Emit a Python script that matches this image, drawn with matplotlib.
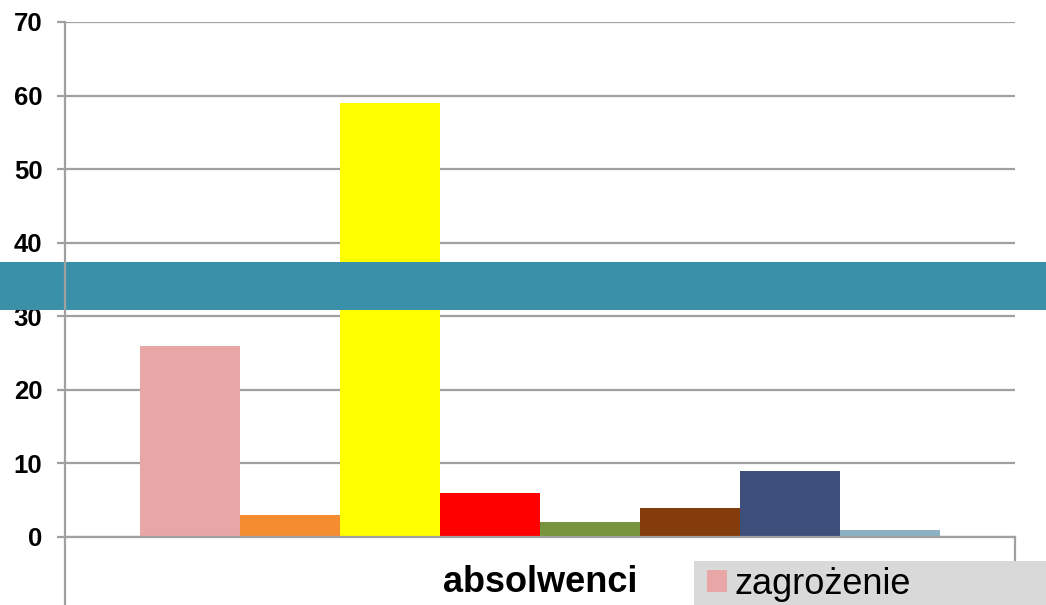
import matplotlib.pyplot as plt
from matplotlib.patches import Rectangle
from matplotlib.lines import Line2D

# one category ("absolwenci"), eight series side by side
series_values = [26, 3, 59, 6, 2, 4, 9, 1]
series_colors = ["#E9A6A6", "#F68C30", "#FFFF00", "#FF0000",
                 "#77933C", "#843C0C", "#3E4F7C", "#8BB3C3"]
legend_label = "zagrożenie"
category_label = "absolwenci"
y_ticks = [0, 10, 20, 30, 40, 50, 60, 70]

W, H = 1046, 605
GRID = "#A0A0A0"

plt.rcParams["font.family"] = ["Liberation Sans", "DejaVu Sans"]

fig = plt.figure(figsize=(W / 100, H / 100), dpi=100)
ax = fig.add_axes([65 / W, (H - 537) / H, 950 / W, 515 / H])

n = len(series_values)
positions = [i - (n - 1) / 2 for i in range(n)]
bars = ax.bar(positions, series_values, width=1.0, color=series_colors, zorder=2)

ax.set_xlim(-4.75, 4.75)
ax.set_ylim(0, 70)
ax.set_yticks(y_ticks)
ax.set_yticklabels([str(t) for t in y_ticks], fontsize=18.5, fontweight="bold")
ax.set_xticks([])
ax.yaxis.grid(True, color=GRID, linewidth=1.6, zorder=0)
ax.set_axisbelow(True)
ax.tick_params(axis="y", length=5.8, width=1.6, color=GRID, pad=10.5)
for side in ["top", "right", "left"]:
    ax.spines[side].set_visible(False)
ax.spines["bottom"].set_color(GRID)
ax.spines["bottom"].set_linewidth(1.6)
ax.spines["bottom"].set_zorder(3)

# teal band laid over the chart
fig.patches.append(Rectangle((0, (H - 310) / H), 1, 48 / H, transform=fig.transFigure,
                             facecolor="#3A90A8", edgecolor="none", zorder=2))

# value axis line running to the bottom of the picture, small tick at right end
fig.lines.append(Line2D([65 / W, 65 / W], [0, (H - 22) / H], transform=fig.transFigure,
                        color=GRID, linewidth=1.6, zorder=3))
fig.lines.append(Line2D([1015 / W, 1015 / W], [(H - 575) / H, (H - 537) / H],
                        transform=fig.transFigure, color=GRID, linewidth=1.6, zorder=3))

fig.text(540 / W, (H - 583) / H, category_label, fontsize=26, fontweight="bold",
         ha="center", va="center")

# legend on a grey strip in the bottom right corner
fig.patches.append(Rectangle((694 / W, 0), 1 - 694 / W, 44 / H, transform=fig.transFigure,
                             facecolor="#D9D9D9", edgecolor="none", zorder=4))
leg = fig.legend([bars[0]], [legend_label], loc="center left",
                 bbox_to_anchor=(707 / W, 21 / H), frameon=False, fontsize=26,
                 handlelength=0.55, handleheight=0.55, handletextpad=0.22,
                 borderpad=0, borderaxespad=0)
leg.set_zorder(5)

fig.savefig("out.png", dpi=100)
